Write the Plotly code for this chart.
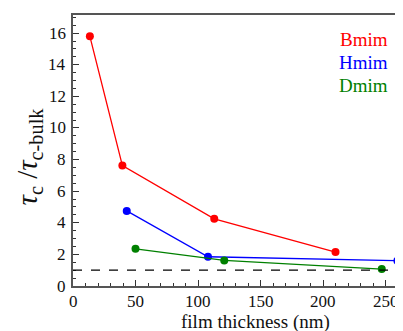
import plotly.graph_objects as go

bmim_x = [13.5, 39.5, 113, 210]
bmim_y = [15.8, 7.62, 4.25, 2.15]
hmim_x = [43, 108, 259.5]
hmim_y = [4.75, 1.85, 1.6]
dmim_x = [50, 121, 247]
dmim_y = [2.35, 1.62, 1.07]
bulk_level = 1.0
names = ["Bmim", "Hmim", "Dmim"]
colors = ["#ff0000", "#0000ff", "#008000"]
x_ticks = [0, 50, 100, 150, 200, 250]
y_ticks = [0, 2, 4, 6, 8, 10, 12, 14, 16]
x_title = "film thickness (nm)"
y_title = "<i>τ</i><sub>c</sub> /<i>τ</i><sub>c-bulk</sub>"

SERIF = "Liberation Serif"

fig = go.Figure()
for xs, ys, c, n in zip([bmim_x, hmim_x, dmim_x], [bmim_y, hmim_y, dmim_y], colors, names):
    fig.add_trace(go.Scatter(x=xs, y=ys, mode="lines+markers", name=n,
                             line=dict(color=c, width=1.3),
                             marker=dict(color=c, size=8), cliponaxis=False))
fig.add_shape(type="line", xref="paper", yref="y", x0=0, x1=1, y0=bulk_level, y1=bulk_level,
              line=dict(color="black", width=1.3, dash="dash"))

for i, (n, c) in enumerate(zip(names, colors)):
    fig.add_annotation(x=1, y=1, xref="paper", yref="paper", xanchor="right",
                       yanchor="middle", xshift=-13, yshift=-24 - 23 * i, text=n, showarrow=False,
                       font=dict(family=SERIF, size=19, color=c))

for t in x_ticks:
    fig.add_annotation(x=t, y=0, xref="x", yref="paper", xanchor="center", yanchor="middle",
                       yshift=-15, text=str(t), showarrow=False,
                       font=dict(family=SERIF, size=17, color="#111"))
for t in y_ticks:
    fig.add_annotation(x=0, y=t, xref="paper", yref="y", xanchor="right", yanchor="middle",
                       xshift=-5, text=str(t), showarrow=False,
                       font=dict(family=SERIF, size=17, color="#111"))

fig.add_annotation(x=0, y=0, xref="paper", yref="paper", xanchor="center", yanchor="middle",
                   xshift=182, yshift=-36, text=x_title, showarrow=False,
                   font=dict(family=SERIF, size=19, color="#111"))
fig.add_annotation(x=0, y=0.5, xref="paper", yref="paper", xanchor="center", yanchor="middle",
                   xshift=-45, yshift=-6, text=y_title, showarrow=False, textangle=-90,
                   font=dict(family=SERIF, size=29, color="#111"))

axis_common = dict(showline=True, linecolor="#555", linewidth=2, mirror=True, ticks="inside",
                   tickcolor="#333", showgrid=False, zeroline=False, automargin=False,
                   showticklabels=False)
fig.update_xaxes(range=[0, 264], tickvals=x_ticks, ticklen=6,
                 minor=dict(dtick=10, ticks="inside", ticklen=3, tickcolor="#333"),
                 **axis_common)
fig.update_yaxes(range=[0, 17.15], tickvals=y_ticks, ticklen=6,
                 minor=dict(dtick=0.5, ticks="inside", ticklen=3, tickcolor="#333"),
                 **axis_common)
fig.update_layout(width=395, height=323, margin=dict(l=65, r=0, t=7, b=45),
                  font=dict(family=SERIF, size=17, color="#111"),
                  plot_bgcolor="white", paper_bgcolor="white", showlegend=False)
fig.write_html("out.html")
